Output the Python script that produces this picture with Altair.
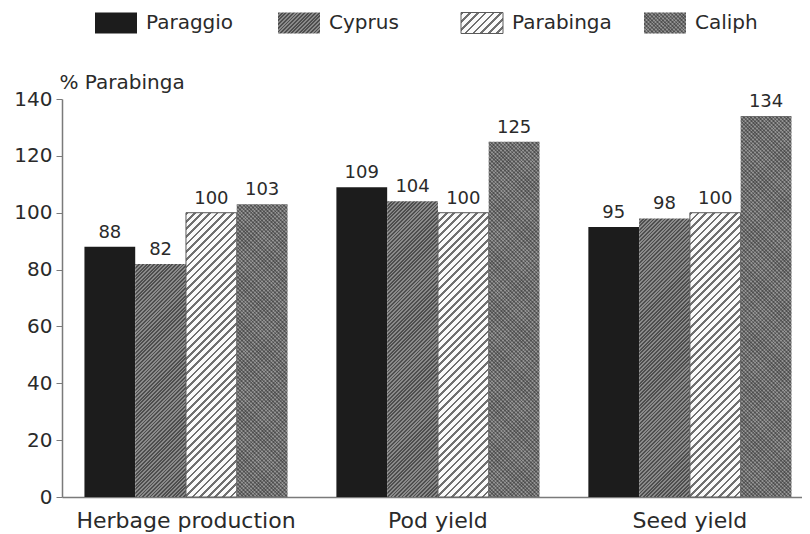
import math
import altair as alt
import pandas as pd

groups = ["Herbage production", "Pod yield", "Seed yield"]
series = ["Paraggio", "Cyprus", "Parabinga", "Caliph"]
paraggio = [88, 109, 95]
cyprus = [82, 104, 98]
parabinga = [100, 100, 100]
caliph = [103, 125, 134]
y_ticks = [0, 20, 40, 60, 80, 100, 120, 140]
y_title = "% Parabinga"

values = {"Paraggio": paraggio, "Cyprus": cyprus, "Parabinga": parabinga, "Caliph": caliph}
rows = []
for s in series:
    for g, v in zip(groups, values[s]):
        rows.append({"group": g, "series": s, "value": v})
df = pd.DataFrame(rows)

FONT = "DejaVu Sans"
TXT = "#2a2a2a"
W, H = 740, 398
YMAX = 140
P_IN, P_OUT, ALIGN = 0.194, 0.0655, 0.68
step = W / (len(groups) - P_IN + 2 * P_OUT)
BAR_W = step * (1 - P_IN) / len(series)


def stripes(w, h, period, c1, c2, frac, direction):
    r = h / w
    a = (1 + r) / (1 + r * r)
    b = r * a
    if direction == "/":
        x1, y1, x2, y2 = 0.0, 0.0, a, b
    else:
        x1, y1, x2, y2 = 1.0, 0.0, 1.0 - a, b
    n = max(1, int(round((w + h) / (math.sqrt(2) * period))))
    stops = []
    for k in range(n):
        o0 = k / n
        om = (k + frac) / n
        o1 = (k + 1) / n
        stops += [
            {"offset": round(o0, 5), "color": c1},
            {"offset": round(om, 5), "color": c1},
            {"offset": round(om, 5), "color": c2},
            {"offset": round(min(o1, 1.0), 5), "color": c2},
        ]
    return {"gradient": "linear", "x1": x1, "y1": y1, "x2": x2, "y2": y2, "stops": stops}


def fills(s, w, h):
    """returns list of (fill, extra mark props) layers for one bar"""
    if s == "Paraggio":
        return [("#1c1c1c", {})]
    if s == "Cyprus":
        return [(stripes(w, h, 2.6, "#4e4e4e", "#8a8a8a", 0.5, "/"), {})]
    if s == "Parabinga":
        return [(stripes(w, h, 5.4, "#707070", "#fafafa", 0.36, "/"),
                 {"stroke": "#5a5a5a", "strokeWidth": 1})]
    return [
        (stripes(w, h, 2.6, "#5e5e5e", "#8c8c8c", 0.5, "\\"), {}),
        (stripes(w, h, 2.6, "rgba(40,40,40,0.25)", "rgba(255,255,255,0.06)", 0.5, "/"), {}),
    ]


xenc = alt.X(
    "group:N",
    sort=groups,
    scale=alt.Scale(domain=groups, paddingInner=P_IN, paddingOuter=P_OUT, align=ALIGN),
    axis=alt.Axis(title=None, labelAngle=0, ticks=False, tickSize=0, labelPadding=13,
                  labelFontSize=22, labelFont=FONT, labelColor=TXT, labelLimit=0,
                  domainColor="#7a7a7a", domainWidth=1.5),
)
xoff = alt.XOffset("series:N", sort=series,
                   scale=alt.Scale(domain=series, paddingInner=0, paddingOuter=0))
yenc = alt.Y(
    "value:Q",
    scale=alt.Scale(domain=[0, YMAX], nice=False),
    axis=alt.Axis(values=y_ticks, grid=False, title=y_title, titleAngle=0,
                  titleX=-3, titleY=-17, titleAlign="left", titleBaseline="middle",
                  titleFont=FONT, titleFontSize=20, titleFontWeight="normal", titleColor=TXT,
                  labelFont=FONT, labelFontSize=20, labelColor=TXT, labelPadding=4,
                  tickSize=6, tickColor="#7a7a7a", domainColor="#7a7a7a", domainWidth=1.5),
)

layers = []
for s in series:
    for g in groups:
        sub = df[(df.series == s) & (df.group == g)]
        v = float(sub["value"].iloc[0])
        h = v * H / YMAX
        for fill, extra in fills(s, BAR_W, h):
            layers.append(
                alt.Chart(sub).mark_bar(fill=fill, **extra).encode(x=xenc, xOffset=xoff, y=yenc)
            )

labels = alt.Chart(df).mark_text(
    dy=-9, baseline="alphabetic", fontSize=18, font=FONT, color=TXT
).encode(x=xenc, xOffset=xoff, y=yenc, text="value:Q")
layers.append(labels)

main = alt.layer(*layers)

# legend row
leg_df = pd.DataFrame({"series": series})
legx = alt.X("series:N", sort=series,
             scale=alt.Scale(domain=series, range=[33, 582], padding=0), axis=None)
LEG_Y = -76
leg_layers = []
for s in series:
    sub = leg_df[leg_df.series == s]
    for fill, extra in fills(s, 42, 21):
        leg_layers.append(
            alt.Chart(sub).mark_point(
                shape="M0,-0.5H2V0.5H0Z", size=1764, filled=True, fill=fill,
                opacity=1, **({"stroke": extra["stroke"], "strokeWidth": 1} if extra else {"strokeWidth": 0})
            ).encode(x=legx, y=alt.value(LEG_Y))
        )
leg_layers.append(
    alt.Chart(leg_df).mark_text(
        align="left", baseline="middle", dx=51, fontSize=20, font=FONT, color=TXT
    ).encode(x=legx, y=alt.value(LEG_Y), text="series:N")
)
legend = alt.layer(*leg_layers)

chart = (
    alt.layer(main, legend)
    .resolve_scale(x="independent")
    .properties(
        width=W, height=H,
        autosize=alt.AutoSizeParams(type="none"),
        padding={"left": 54, "top": 91, "right": 0, "bottom": 36},
    )
    .configure_view(stroke=None)
)

chart.save("out.html", embed_options={"renderer": "svg", "actions": False})
